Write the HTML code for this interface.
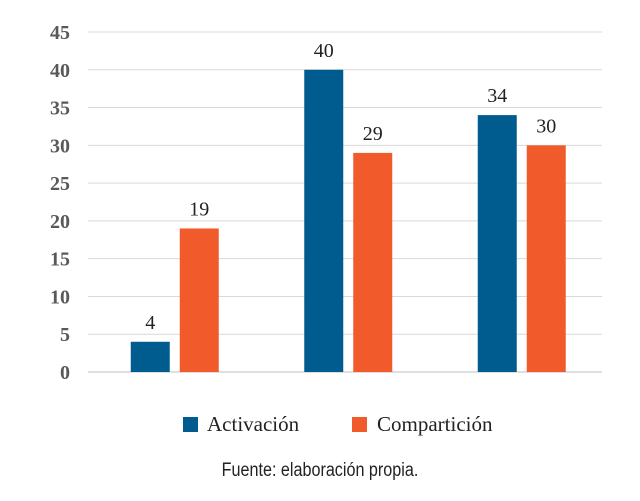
<!DOCTYPE html>
<html><head><meta charset="utf-8"><style>
body{margin:0;background:#fff;}
svg{display:block;}
</style></head><body>
<svg id="chart" width="640" height="501" xmlns="http://www.w3.org/2000/svg"></svg>
<script>
const categories=["Grupo 1","Grupo 2","Grupo 3"];
const activacion=[4,40,34];
const comparticion=[19,29,30];
const yTicks=[0,5,10,15,20,25,30,35,40,45];
const NS="http://www.w3.org/2000/svg";
const svg=document.getElementById('chart');
const x0=88,x1=602,yBase=372,yTop=32,yMax=45;
const y=v=>yBase-(v/yMax)*(yBase-yTop);
const catW=173.5;
const cx=i=>x0+catW*(i+0.5);
function mk(tag,attrs,text){const e=document.createElementNS(NS,tag);for(const k in attrs)e.setAttribute(k,attrs[k]);if(text!==undefined)e.textContent=text;svg.appendChild(e);return e;}
yTicks.forEach(t=>{
  const g=mk('line',{x1:x0,x2:x1,y1:y(t),y2:y(t),stroke:t===0?'#bfbfbf':'#d9d9d9','stroke-width':1});
  
  
  const l=mk('text',{x:70,y:y(t)+7,'text-anchor':'end','font-family':'Liberation Serif, serif','font-weight':'bold','font-size':20,fill:'#595959'},t);
  
  
});
const bw=39,gap=10;
categories.forEach((c,i)=>{
  const series=[[activacion[i],'#005b8f',-1],[comparticion[i],'#f15a2b',1]];
  series.forEach(([v,col,s],j)=>{
    const bx=s<0?cx(i)-gap/2-bw:cx(i)+gap/2;
    const r=mk('rect',{x:bx,y:y(v),width:bw,height:yBase-y(v),fill:col});
    
    
    const t=mk('text',{x:bx+bw/2,y:y(v)-13,'text-anchor':'middle','font-family':'Liberation Serif, serif','font-size':20,fill:'#222'},v);
    
    
  });
});
</script>
<div style="position:absolute;left:0;top:0;width:640px;height:501px;pointer-events:none;">
<div style="position:absolute;left:183px;top:412px;font-family:'Liberation Serif',serif;font-size:21px;color:#222;white-space:nowrap;"><span style="display:inline-block;width:15px;height:15px;background:#005b8f;vertical-align:-1px;margin-right:9px;"></span>Activación</div>
<div style="position:absolute;left:352px;top:412px;font-family:'Liberation Serif',serif;font-size:21px;color:#222;white-space:nowrap;"><span style="display:inline-block;width:15px;height:15px;background:#f15a2b;vertical-align:-1px;margin-right:10px;"></span>Compartición</div>
<div style="position:absolute;left:0;width:640px;top:460px;text-align:center;font-family:'Liberation Sans',sans-serif;font-size:19px;color:#222;transform:scaleX(0.85);">Fuente: elaboración propia.</div>
</div>
</body></html>
